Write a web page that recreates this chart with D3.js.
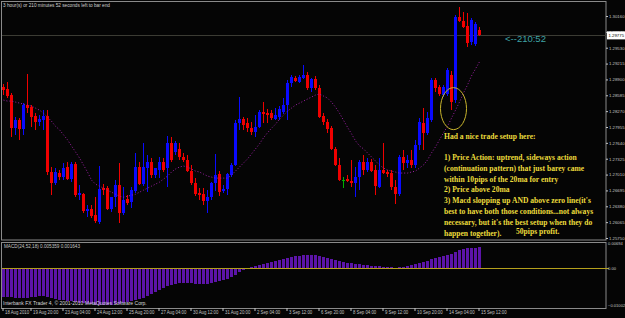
<!DOCTYPE html>
<html>
<head>
<meta charset="utf-8">
<script src="https://cdn.jsdelivr.net/npm/d3@7"></script>
<style>
  body { margin: 0; background: #000; }
  svg { display: block; }
</style>
</head>
<body>
<svg id="chart" width="625" height="318"></svg>
<script>
// EURUSD-like H4 chart, 18 Aug - 15 Sep 2010
var priceTicks = [1.30160, 1.29845, 1.29530, 1.29215, 1.28900, 1.28585, 1.28270, 1.27955,
                  1.27640, 1.27325, 1.27010, 1.26695, 1.26380, 1.26065, 1.25750];
var timeTicks = ["18 Aug 2010", "19 Aug 20:00", "23 Aug 04:00", "24 Aug 12:00", "25 Aug 20:00",
                 "27 Aug 04:00", "30 Aug 12:00", "31 Aug 20:00", "2 Sep 04:00", "3 Sep 12:00",
                 "6 Sep 20:00", "8 Sep 04:00", "9 Sep 12:00", "10 Sep 20:00", "14 Sep 04:00", "15 Sep 12:00"];
var macdTicks = [0.00694, 0, -0.01002];
var bid = 1.29775;

var open = [1.2875,1.2871,1.2859,1.2793,1.2809,1.2791,1.2839,1.2835,1.2817,1.2805,
  1.2809,1.2817,1.2706,1.2684,1.2704,1.2696,1.2716,1.2692,1.2722,1.2660,
  1.2662,1.2629,1.2633,1.2621,1.2607,1.2674,1.2674,1.2633,1.2656,1.2680,
  1.2625,1.2652,1.2647,1.2668,1.2716,1.2682,1.2714,1.2726,1.2700,1.2710,
  1.2726,1.2714,1.2764,1.2746,1.2752,1.2736,1.2730,1.2708,1.2684,1.2664,
  1.2662,1.2649,1.2656,1.2684,1.2702,1.2668,1.2672,1.2700,1.2720,1.2803,
  1.2811,1.2803,1.2793,1.2786,1.2795,1.2825,1.2823,1.2823,1.2811,1.2815,
  1.2825,1.2839,1.2883,1.2893,1.2885,1.2893,1.2899,1.2873,1.2891,1.2873,
  1.2817,1.2805,1.2793,1.2752,1.2720,1.2690,1.2692,1.2688,1.2684,1.2696,
  1.2726,1.2710,1.2726,1.2710,1.2676,1.2710,1.2706,1.2704,1.2676,1.2662,
  1.2736,1.2724,1.2730,1.2720,1.2760,1.2803,1.2784,1.2809,1.2889,1.2875,
  1.2859,1.2861,1.2899,1.2849,1.3014,1.3006,1.2996,1.2964,1.2960,1.2988];
var high = [1.2881,1.2885,1.2863,1.2815,1.2813,1.2843,1.2901,1.2839,1.2823,1.2819,
  1.2829,1.2829,1.2716,1.2714,1.2710,1.2724,1.2726,1.2726,1.2726,1.2680,
  1.2664,1.2641,1.2641,1.2656,1.2718,1.2682,1.2678,1.2641,1.2690,1.2724,
  1.2676,1.2660,1.2676,1.2744,1.2726,1.2764,1.2740,1.2734,1.2710,1.2736,
  1.2734,1.2778,1.2776,1.2768,1.2764,1.2744,1.2740,1.2720,1.2694,1.2674,
  1.2674,1.2670,1.2686,1.2742,1.2708,1.2680,1.2704,1.2724,1.2809,1.2855,
  1.2815,1.2813,1.2805,1.2819,1.2829,1.2845,1.2831,1.2829,1.2833,1.2837,
  1.2853,1.2889,1.2899,1.2897,1.2899,1.2919,1.2905,1.2893,1.2897,1.2879,
  1.2823,1.2811,1.2797,1.2756,1.2734,1.2696,1.2700,1.2730,1.2716,1.2730,
  1.2740,1.2734,1.2732,1.2720,1.2734,1.2764,1.2710,1.2710,1.2690,1.2740,
  1.2750,1.2740,1.2750,1.2770,1.2813,1.2833,1.2825,1.2893,1.2893,1.2879,
  1.2879,1.2913,1.2907,1.3018,1.3034,1.3024,1.3022,1.3012,1.3004,1.2994];
var low = [1.2859,1.2853,1.2776,1.2780,1.2770,1.2780,1.2823,1.2795,1.2790,1.2797,
  1.2790,1.2700,1.2660,1.2680,1.2690,1.2690,1.2690,1.2686,1.2656,1.2651,
  1.2625,1.2617,1.2615,1.2605,1.2603,1.2660,1.2631,1.2627,1.2637,1.2605,
  1.2621,1.2641,1.2635,1.2664,1.2680,1.2678,1.2666,1.2694,1.2694,1.2694,
  1.2706,1.2676,1.2726,1.2740,1.2730,1.2726,1.2706,1.2680,1.2658,1.2651,
  1.2641,1.2625,1.2651,1.2668,1.2658,1.2664,1.2660,1.2696,1.2718,1.2790,
  1.2790,1.2786,1.2780,1.2776,1.2793,1.2803,1.2803,1.2809,1.2809,1.2809,
  1.2821,1.2809,1.2875,1.2885,1.2883,1.2891,1.2869,1.2865,1.2869,1.2813,
  1.2799,1.2784,1.2750,1.2718,1.2688,1.2674,1.2686,1.2676,1.2656,1.2670,
  1.2700,1.2706,1.2706,1.2660,1.2674,1.2702,1.2696,1.2670,1.2643,1.2658,
  1.2710,1.2714,1.2714,1.2714,1.2750,1.2750,1.2780,1.2805,1.2865,1.2857,
  1.2855,1.2857,1.2829,1.2843,1.3004,1.2992,1.2954,1.2958,1.2956,1.2976];
var close = [1.2869,1.2857,1.2793,1.2809,1.2791,1.2839,1.2833,1.2815,1.2805,1.2811,
  1.2817,1.2706,1.2684,1.2706,1.2696,1.2714,1.2692,1.2722,1.2660,1.2664,
  1.2629,1.2633,1.2619,1.2609,1.2672,1.2670,1.2633,1.2656,1.2680,1.2625,
  1.2651,1.2645,1.2670,1.2716,1.2682,1.2716,1.2726,1.2700,1.2714,1.2726,
  1.2710,1.2764,1.2730,1.2764,1.2736,1.2730,1.2708,1.2684,1.2662,1.2660,
  1.2649,1.2656,1.2684,1.2700,1.2666,1.2672,1.2702,1.2720,1.2803,1.2811,
  1.2799,1.2793,1.2786,1.2795,1.2825,1.2821,1.2819,1.2813,1.2819,1.2831,
  1.2839,1.2883,1.2895,1.2887,1.2895,1.2899,1.2873,1.2891,1.2873,1.2815,
  1.2805,1.2791,1.2752,1.2720,1.2690,1.2690,1.2688,1.2684,1.2696,1.2726,
  1.2710,1.2726,1.2708,1.2678,1.2710,1.2704,1.2702,1.2676,1.2662,1.2736,
  1.2724,1.2730,1.2720,1.2760,1.2805,1.2784,1.2813,1.2889,1.2873,1.2861,
  1.2875,1.2909,1.2845,1.3014,1.3006,1.2994,1.2962,1.3008,1.3000,1.2978];
var ma20 = [1.2849,1.2847,1.2847,1.2845,1.2843,1.2841,1.2839,1.2837,1.2833,1.2829,
  1.2823,1.2815,1.2807,1.2797,1.2790,1.2780,1.2770,1.2758,1.2746,1.2734,
  1.2720,1.2706,1.2690,1.2682,1.2678,1.2674,1.2670,1.2666,1.2662,1.2658,
  1.2656,1.2658,1.2660,1.2662,1.2666,1.2670,1.2674,1.2678,1.2682,1.2686,
  1.2692,1.2698,1.2706,1.2712,1.2716,1.2718,1.2716,1.2712,1.2708,1.2706,
  1.2702,1.2698,1.2696,1.2694,1.2694,1.2694,1.2694,1.2700,1.2708,1.2716,
  1.2724,1.2732,1.2742,1.2752,1.2762,1.2774,1.2784,1.2793,1.2801,1.2811,
  1.2819,1.2827,1.2833,1.2839,1.2843,1.2847,1.2851,1.2855,1.2859,1.2861,
  1.2857,1.2853,1.2845,1.2835,1.2823,1.2809,1.2795,1.2782,1.2768,1.2758,
  1.2752,1.2744,1.2736,1.2728,1.2720,1.2714,1.2710,1.2708,1.2706,1.2704,
  1.2704,1.2704,1.2706,1.2708,1.2714,1.2720,1.2730,1.2744,1.2756,1.2770,
  1.2784,1.2797,1.2813,1.2829,1.2845,1.2863,1.2879,1.2897,1.2911,1.2925];
var macd = [-0.00745,-0.00745,-0.00745,-0.00771,-0.00771,-0.00771,-0.00771,-0.00745,-0.00745,-0.0072,
  -0.0072,-0.00745,-0.00771,-0.00797,-0.00822,-0.00822,-0.00848,-0.00848,-0.00874,-0.009,
  -0.009,-0.00925,-0.00925,-0.00951,-0.00951,-0.00951,-0.00951,-0.00951,-0.00925,-0.00925,
  -0.009,-0.00874,-0.00848,-0.00822,-0.00797,-0.00771,-0.0072,-0.00668,-0.00617,-0.00565,
  -0.00514,-0.00463,-0.00437,-0.00411,-0.00386,-0.00386,-0.00386,-0.00386,-0.00411,-0.00411,
  -0.00411,-0.00411,-0.00386,-0.0036,-0.00334,-0.00308,-0.00283,-0.00231,-0.0018,-0.00103,
  -0.00051,-0.00013,0.00026,0.00051,0.00077,0.00103,0.00129,0.00154,0.0018,0.00206,
  0.00231,0.00257,0.00283,0.00308,0.00308,0.00334,0.00334,0.00334,0.00334,0.00308,
  0.00283,0.00257,0.00231,0.00206,0.0018,0.00154,0.00129,0.00129,0.00103,0.00103,
  0.00077,0.00077,0.00051,0.00051,0.00051,0.00026,0.00026,0.00026,0.00005,0.00026,
  0.00026,0.00051,0.00077,0.00103,0.00129,0.00154,0.0018,0.00231,0.00257,0.00283,
  0.00308,0.00334,0.0036,0.00411,0.00463,0.00488,0.00514,0.00514,0.00514,0.00536];

var note = ["Had a nice trade setup here:", "",
  "1) Price Action: uptrend, sideways action",
  "(continuation pattern) that just barey came",
  "within 10pips of the 20ma for entry",
  "2) Price above 20ma",
  "3) Macd slopping up AND above zero line(it's",
  "best to have both those conditions...not always",
  "necessary, but it's the best setup when they do",
  "happen together)."];

// H4 bar times, weekends skipped
var barTimes = [];
var t = new Date(2010, 7, 18, 16);
while (barTimes.length < close.length) {
  var wd = t.getDay();
  if (wd != 0 && wd != 6) barTimes.push(new Date(t));
  t = d3.timeHour.offset(t, 4);
}
var fmtTick = d3.timeFormat("%-d %b %H:%M"),
    fmtFirst = d3.timeFormat("%-d %b %Y");
function barLabel(i) { return i == 0 ? fmtFirst(barTimes[0]) : fmtTick(barTimes[i]); }

var svg = d3.select("#chart"),
    axisColor = "#c4c4c4",
    frameColor = "#8a8a8a",
    small = "Liberation Sans, Arial, sans-serif";

// squeeze small labels a bit, MT4 font is narrower
function squeeze(sel, k) {
  sel.each(function() {
    var len = this.getComputedTextLength();
    d3.select(this).attr("textLength", len * k).attr("lengthAdjust", "spacingAndGlyphs");
  });
}

svg.append("rect").attr("width", 625).attr("height", 318).attr("fill", "#050505");

var idx = d3.range(close.length);
var x = d3.scaleBand().domain(idx).range([1, 1 + 4 * close.length]);
var y = d3.scaleLinear().domain([1.25750, 1.30160]).range([238, 16]);
var ym = d3.scaleLinear().domain([-0.01002, 0.00694]).range([307, 241]);

// frames
svg.append("rect").attr("x", 1.5).attr("y", 1.5).attr("width", 604.5).attr("height", 238.5)
  .attr("fill", "none").attr("stroke", frameColor);
svg.append("rect").attr("x", 1.5).attr("y", 242.5).attr("width", 604.5).attr("height", 66)
  .attr("fill", "none").attr("stroke", frameColor);

var main = svg.append("g").attr("shape-rendering", "crispEdges");

// bid line
main.append("line").attr("x1", 2).attr("x2", 606)
  .attr("y1", Math.round(y(bid)) + 0.5).attr("y2", Math.round(y(bid)) + 0.5)
  .attr("stroke", "#3c3c34");

function candleColor(i) {
  if (close[i] > open[i]) return "#0a0aff";
  if (close[i] < open[i]) return "#f00000";
  return "#00b000";
}

var candles = main.selectAll("g.candle").data(idx).enter().append("g").attr("class", "candle");
candles.append("line")
  .attr("x1", function(i) { return x(i) + 2.5; })
  .attr("x2", function(i) { return x(i) + 2.5; })
  .attr("y1", function(i) { return y(high[i]); })
  .attr("y2", function(i) { return y(low[i]); })
  .attr("stroke", candleColor);
candles.append("rect")
  .attr("x", function(i) { return x(i) + 1; })
  .attr("width", 3)
  .attr("y", function(i) { return y(Math.max(open[i], close[i])); })
  .attr("height", function(i) { return Math.max(1, Math.abs(y(open[i]) - y(close[i]))); })
  .attr("fill", candleColor);

// 20 ma, dotted
var maLine = d3.line()
  .x(function(d, i) { return x(i) + 2.5; })
  .y(function(d) { return y(d); });
svg.append("path").datum(ma20)
  .attr("d", maLine)
  .attr("fill", "none")
  .attr("stroke", "#a020a8")
  .attr("stroke-width", 1)
  .attr("stroke-dasharray", "1,2");

// circle around the entry
svg.append("ellipse")
  .attr("cx", x(113) + 0.5).attr("cy", y(1.2832))
  .attr("rx", 13).attr("ry", 21)
  .attr("fill", "none").attr("stroke", "#c8b42c").attr("stroke-width", 1);

// price axis
var yAxis = svg.append("g")
  .attr("transform", "translate(606,0)")
  .call(d3.axisRight(y).tickValues(priceTicks).tickFormat(d3.format(".5f")).tickSize(2).tickPadding(1));
yAxis.select(".domain").remove();
yAxis.selectAll("line").attr("stroke", axisColor);
yAxis.selectAll("text").attr("fill", axisColor).attr("font-size", 4.3).attr("font-family", small);

// bid label
svg.append("rect").attr("x", 607).attr("y", y(bid) - 4).attr("width", 18).attr("height", 8).attr("fill", "#fff");
svg.append("text").attr("x", 608.5).attr("y", y(bid) + 1.5).attr("font-size", 4.3)
  .attr("font-family", small).attr("fill", "#000")
  .text(d3.format(".5f")(bid));

// countdown
svg.append("text").attr("x", 505).attr("y", 42).attr("font-size", 9.5)
  .attr("font-family", "Liberation Sans, Arial, sans-serif").attr("fill", "#3fa3a6").text("<--210:52");
svg.append("text").attr("x", 3).attr("y", 7).attr("font-size", 5)
  .attr("font-family", small).attr("fill", "#d0d0d0")
  .attr("textLength", 107).attr("lengthAdjust", "spacingAndGlyphs")
  .text("3 hour(s) or 210 minutes 52 seconds left to bar end");

// note text
var noteG = svg.append("g").attr("font-family", "Liberation Serif, Times New Roman, serif")
  .attr("font-weight", "bold").attr("font-size", 7.6).attr("fill", "#ecdc3c");
noteG.selectAll("text").data(note).enter().append("text")
  .attr("x", 444)
  .attr("y", function(d, i) { return 139 + (i < 2 ? i * 11 : 21 + (i - 2) * 10.8); })
  .text(function(d) { return d; });
noteG.append("text").attr("x", 516).attr("y", 233.5).text("50pips profit.");

// MACD window
var mac = svg.append("g").attr("shape-rendering", "crispEdges");
mac.selectAll("rect").data(idx).enter().append("rect")
  .attr("x", function(i) { return x(i) + 1; })
  .attr("width", 3)
  .attr("y", function(i) { return ym(Math.max(0, macd[i])); })
  .attr("height", function(i) { return Math.abs(ym(macd[i]) - ym(0)); })
  .attr("fill", "#5c14a8");
mac.append("line").attr("x1", 2).attr("x2", 609).attr("y1", Math.round(ym(0)) + 0.5).attr("y2", Math.round(ym(0)) + 0.5)
  .attr("stroke", "#b4a01c");

var mAxis = svg.append("g").attr("transform", "translate(606,0)")
  .call(d3.axisRight(ym).tickValues(macdTicks).tickSize(0).tickPadding(2)
    .tickFormat(function(d) { return d == 0 ? "0.00" : d3.format(".5f")(d); }));
mAxis.select(".domain").remove();
mAxis.selectAll("text").attr("fill", axisColor).attr("font-size", 4.1).attr("font-family", small)
  .attr("dy", function(d) { return d > 0 ? "0.9em" : d < 0 ? "-0.1em" : "0.32em"; });

svg.append("text").attr("x", 4).attr("y", 248).attr("font-size", 5).attr("font-family", small)
  .attr("fill", axisColor).attr("textLength", 76).attr("lengthAdjust", "spacingAndGlyphs")
  .text("MACD(24,52,18) 0.005359 0.001643");
svg.append("text").attr("x", 3).attr("y", 305).attr("font-size", 5).attr("font-family", small)
  .attr("fill", "#d8d8d8").text("Interbank FX Trader 4, \u00a9 2001-2010 MetaQuotes Software Corp.");

// time axis
var tickIdx = idx.filter(function(i) { return timeTicks.indexOf(barLabel(i)) >= 0; });
var xAxis = svg.append("g").attr("transform", "translate(0,308)")
  .call(d3.axisBottom(x).tickValues(tickIdx).tickSize(3).tickPadding(1).tickFormat(barLabel));
xAxis.select(".domain").remove();
xAxis.selectAll("line").attr("stroke", axisColor);
xAxis.selectAll("text").attr("fill", axisColor).attr("font-size", 5).attr("font-family", small)
  .attr("text-anchor", "start").attr("x", 2).attr("y", 2).attr("dy", "0.8em");
squeeze(xAxis.selectAll("text"), 0.86);
</script>
</body>
</html>
